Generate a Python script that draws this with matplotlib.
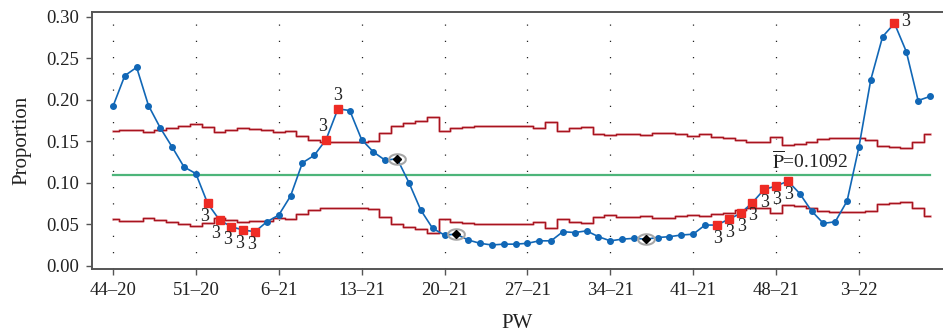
import numpy as np
import matplotlib.pyplot as plt
from matplotlib.path import Path

plt.rcParams['font.family'] = ['Liberation Serif', 'DejaVu Serif']
plt.rcParams['mathtext.fontset'] = 'stix'

# week labels (every 7th week gets a tick)
week_labels = ['44–20', '51–20', '6–21', '13–21', '20–21', '27–21', '34–21',
               '41–21', '48–21', '3–22']

# weekly proportion
prop = [0.192, 0.229, 0.239, 0.193, 0.166, 0.143, 0.119, 0.111, 0.075, 0.055,
        0.047, 0.043, 0.041, 0.053, 0.061, 0.084, 0.124, 0.133, 0.152, 0.189,
        0.187, 0.152, 0.137, 0.127, 0.129, 0.100, 0.067, 0.045, 0.037, 0.038,
        0.031, 0.027, 0.025, 0.026, 0.026, 0.027, 0.030, 0.030, 0.041, 0.040,
        0.042, 0.035, 0.030, 0.032, 0.033, 0.032, 0.034, 0.035, 0.037, 0.038,
        0.049, 0.049, 0.056, 0.063, 0.076, 0.092, 0.096, 0.102, 0.087, 0.066,
        0.051, 0.053, 0.078, 0.143, 0.224, 0.276, 0.292, 0.258, 0.199, 0.204]

# upper / lower control limits per week
ucl = [0.162, 0.164, 0.164, 0.161, 0.1635, 0.1655, 0.1687, 0.1707, 0.1675, 0.161,
       0.1635, 0.1663, 0.165, 0.164, 0.161, 0.162, 0.156, 0.151, 0.149, 0.149,
       0.149, 0.149, 0.150, 0.160, 0.168, 0.1715, 0.1747, 0.1788, 0.1623, 0.1655,
       0.1667, 0.1683, 0.1683, 0.1683, 0.1683, 0.1683, 0.1663, 0.1735, 0.1623, 0.1663,
       0.1675, 0.1591, 0.1571, 0.1591, 0.1591, 0.1579, 0.1603, 0.1603, 0.1583, 0.1567,
       0.1583, 0.1555, 0.1543, 0.1514, 0.1494, 0.1486, 0.1547, 0.1454, 0.1466, 0.1494,
       0.1522, 0.1535, 0.1535, 0.1535, 0.152, 0.144, 0.143, 0.142, 0.1494, 0.1585]
lcl = [0.0564, 0.0544, 0.0544, 0.0574, 0.0549, 0.0529, 0.0497, 0.0477, 0.0509, 0.0574,
       0.0549, 0.0521, 0.0534, 0.0544, 0.0574, 0.0564, 0.0624, 0.0674, 0.0694, 0.0694,
       0.0694, 0.0694, 0.0684, 0.0584, 0.0504, 0.0469, 0.0437, 0.0396, 0.0561, 0.0529,
       0.0517, 0.0501, 0.0501, 0.0501, 0.0501, 0.0501, 0.0521, 0.0449, 0.0561, 0.0521,
       0.0509, 0.0593, 0.0613, 0.0593, 0.0593, 0.0605, 0.0581, 0.0581, 0.0601, 0.0617,
       0.0601, 0.0629, 0.0641, 0.0670, 0.0690, 0.0698, 0.0637, 0.0730, 0.0718, 0.0690,
       0.0662, 0.0649, 0.0649, 0.0649, 0.0664, 0.0744, 0.0754, 0.0764, 0.0690, 0.0599]
p_bar = 0.1092

# weeks flagged by test 3, and weeks marked with a diamond
test3 = [8, 9, 10, 11, 12, 18, 19, 51, 52, 53, 54, 55, 56, 57, 66]
marked = [24, 29, 45]

x = np.arange(len(prop))
prop = np.array(prop)

fig = plt.figure(figsize=(9.43, 3.36), dpi=100)
ax = fig.add_axes([92/943, 66.7/336, 1 - 92/943, 257.3/336])

# control limits #########################################################
for lim in (ucl, lcl):
    ax.step(x, lim, where='mid', color='#ebb4b9', lw=1.9, zorder=1)
    ax.step(x, lim, where='mid', color='#a8141f', lw=1.0, zorder=2)
ax.plot([x[0], x[-1]], [p_bar, p_bar], color='#4db57a', lw=1.6, zorder=2)
ax.text(x[-1] - 6.9, p_bar + 0.0035, r'$\overline{\mathrm{P}}$=0.1092',
        ha='right', va='bottom', fontsize=14, color='#222222')

# data ###################################################################
ax.plot(x, prop, color='#1167b6', lw=1.2, zorder=3)
normal = [i for i in x if i not in test3 and i not in marked]
ax.plot(x[normal], prop[normal], 'o', color='#1167b6', ms=4, zorder=4)
ax.plot(x[test3], prop[test3], 's', color='#ee2b24', ms=5.5, zorder=5)

t = np.linspace(0, 2 * np.pi, 60)
ellipse = Path(np.column_stack([1.6 * np.cos(t), np.sin(t)]))
ax.plot(x[marked], prop[marked], ls='none', marker=ellipse, ms=12,
        mfc='none', mec='#a6a6a6', mew=1.5, zorder=5)
ax.plot(x[marked], prop[marked], 'D', color='black', ms=4.5, zorder=6)

# "3" labels
for i in test3:
    if i in (18, 19):
        off = (-2.5, 9.5) if i == 18 else (0, 9.5)
    elif i == 66:
        off = (8, 1.5)
    elif i < 20:
        off = (-2.5, -9.5)
    else:
        off = (0.5, -9.5)
    ax.annotate('3', (x[i], prop[i]), xytext=off, textcoords='offset points',
                ha='center', va='center', fontsize=13, color='#222222', zorder=7)

# axes ###################################################################
ax.set_xlim(-1.77, 70.1)
ax.set_ylim(-0.0043, 0.3057)
ticks = np.arange(0, 64, 7)
ax.set_xticks(ticks)
ax.set_xticklabels(week_labels)
for tk in ticks:
    ax.axvline(tk, color='#222222', lw=0.9, ls=(0, (1, 12)), zorder=0)
ax.set_yticks(np.arange(0, 0.31, 0.05))
ax.set_yticklabels(['%.2f' % v for v in np.arange(0, 0.31, 0.05)])
ax.tick_params(direction='out', length=4, width=1, color='#555555',
               labelsize=13.5, labelcolor='#222222', pad=5)
for side in ('left', 'bottom', 'top'):
    ax.spines[side].set_color('#555555')
    ax.spines[side].set_linewidth(1.4)
ax.spines['right'].set_visible(False)
ax.set_xlabel('PW', fontsize=15, color='#222222', labelpad=11)
ax.set_ylabel('Proportion', fontsize=15, color='#222222', labelpad=11)

plt.savefig('out.png', dpi=100)
